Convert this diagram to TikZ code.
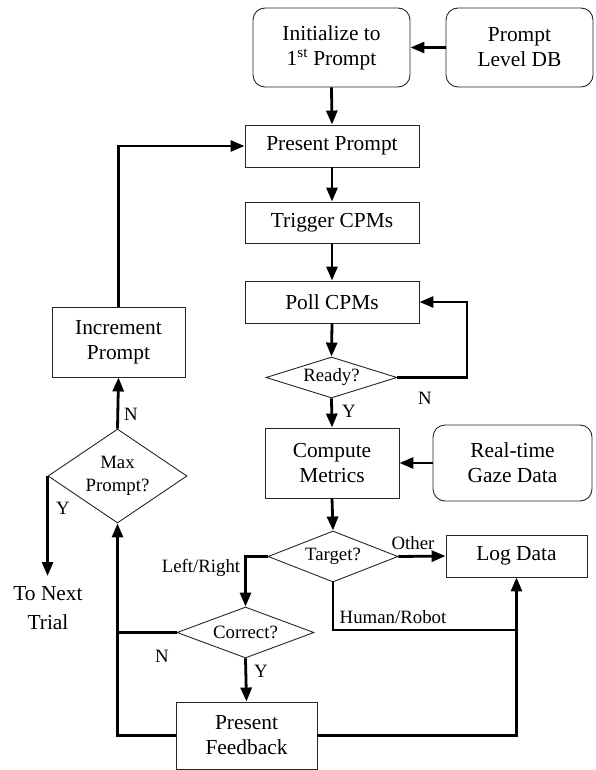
\documentclass[tikz,border=0pt]{standalone}
\usepackage{fontspec}
\setmainfont{Liberation Serif}
\usetikzlibrary{arrows.meta,shapes.geometric}
\newcommand{\fbig}{\fontsize{21.4}{25}\selectfont}
\newcommand{\fsmall}{\fontsize{18.8}{23}\selectfont}
\begin{document}
\begin{tikzpicture}[x=1pt,y=-1pt,
  box/.style={draw=black!85, line width=0.9pt, inner sep=0pt, align=center, font=\fbig},
  rbox/.style={box, rounded corners=12pt},
  dia/.style={draw=black!85, line width=0.9pt, diamond, inner sep=0pt, align=center, font=\fsmall},
  conn/.style={line width=2.8pt, -{Triangle[length=14pt,width=11pt]}},
  plain/.style={line width=2.8pt},
  lbl/.style={font=\fsmall, inner sep=0pt}]
\useasboundingbox (0,0) rectangle (595,770);
% nodes
\node[rbox, minimum width=157pt, minimum height=79pt] (init) at (331.5,47.5) {Initialize to\\1\textsuperscript{st} Prompt};
\node[rbox, minimum width=147pt, minimum height=79pt] (db) at (519.5,47.5) {Prompt\\Level DB};
\node[box, minimum width=174pt, minimum height=42pt] (present) at (332,146) {Present Prompt};
\node[box, minimum width=174pt, minimum height=41pt] (trigger) at (332,222.5) {Trigger CPMs};
\node[box, minimum width=174pt, minimum height=42pt] (poll) at (332,302) {Poll CPMs};
\node[dia, minimum width=131pt, minimum height=41pt, shape aspect=3.2] (ready) at (331.5,377.5) {Ready?};
\node[box, minimum width=134pt, minimum height=70pt] (compute) at (332,463) {Compute\\Metrics};
\node[rbox, minimum width=159pt, minimum height=76pt] (gaze) at (512.5,463) {Real-time\\Gaze Data};
\node[dia, minimum width=130pt, minimum height=51pt, shape aspect=2.55] (target) at (333,556.5) {Target?};
\node[box, minimum width=141pt, minimum height=42pt] (log) at (516.5,556) {Log Data};
\node[dia, minimum width=137pt, minimum height=51pt, shape aspect=2.69] (correct) at (245.5,632.5) {Correct?};
\node[box, minimum width=141pt, minimum height=67pt] (feedback) at (246.5,735.5) {Present\\Feedback};
\node[dia, minimum width=139pt, minimum height=94pt, shape aspect=1.48] (maxp) at (117.5,476) {Max\\Prompt?};
\node[box, minimum width=133pt, minimum height=70pt] (incr) at (118.5,342) {Increment\\Prompt};
\node[font=\fbig, align=center, inner sep=0pt] (next) at (48,608) {To Next\\[4pt]Trial};
% coordinates
\coordinate (loopr) at (467,377.5);
\coordinate (hr) at (log.south |- 0,630);
\coordinate (cj) at (maxp.south |- correct.west);
\coordinate (nt) at (maxp.west |- 0,576);
% connectors
\draw[conn] (db.west) -- (init.east);
\draw[conn] (init.south) -- (present.north);
\draw[conn] (present.south) -- (trigger.north);
\draw[conn] (trigger.south) -- (poll.north);
\draw[conn] (poll.south) -- (ready.north);
\draw[conn] (ready.east) -- (loopr) |- (poll.east);
\draw[conn] (ready.south) -- (compute.north);
\draw[conn] (gaze.west) -- (compute.east);
\draw[conn] (compute.south) -- (target.north);
\draw[conn] (target.east) -- (log.west);
\draw[conn] (target.west) -| (correct.north);
\draw[conn] (target.south) |- (hr) -- (log.south);
\draw[plain] (feedback.east) -| (hr);
\draw[conn] (correct.south) -- (feedback.north);
\draw[plain] (correct.west) -- (cj);
\draw[conn] (feedback.west) -| (maxp.south);
\draw[conn] (maxp.north) -- (incr.south);
\draw[conn] (maxp.west) -- (nt);
\draw[conn] (incr.north) |- (present.west);
% labels
\node[lbl] (ly1) at (349,411) {Y};
\node[lbl] (ln1) at (425,398) {N};
\node[lbl] (lo) at (413,543) {Other};
\node[lbl] (lhr) at (393,617) {Human/Robot};
\node[lbl] (llr) at (201,568) {Left/Right};
\node[lbl] (ln2) at (162,656) {N};
\node[lbl] (ly2) at (261,671) {Y};
\node[lbl] (ln3) at (131,414) {N};
\node[lbl] (ly3) at (63,508) {Y};
\end{tikzpicture}
\end{document}
